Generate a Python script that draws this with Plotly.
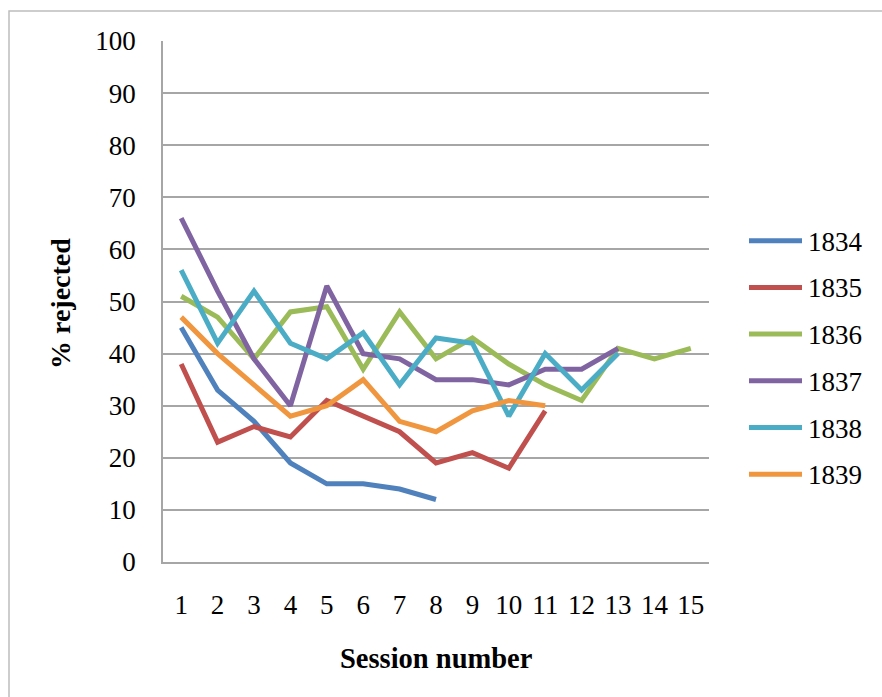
import plotly.graph_objects as go

sessions = list(range(1, 16))
series_names = ["1834", "1835", "1836", "1837", "1838", "1839"]
v1834 = [45, 33, 27, 19, 15, 15, 14, 12]
v1835 = [38, 23, 26, 24, 31, 28, 25, 19, 21, 18, 29]
v1836 = [51, 47, 39, 48, 49, 37, 48, 39, 43, 38, 34, 31, 41, 39, 41]
v1837 = [66, 52, 39, 30, 53, 40, 39, 35, 35, 34, 37, 37, 41]
v1838 = [56, 42, 52, 42, 39, 44, 34, 43, 42, 28, 40, 33, 40]
v1839 = [47, 40, 34, 28, 30, 35, 27, 25, 29, 31, 30]
series_values = [v1834, v1835, v1836, v1837, v1838, v1839]
colors = ["#4F81BD", "#C0504D", "#9BBB59", "#8064A2", "#4BACC6", "#F0963F"]
y_ticks = list(range(0, 101, 10))

FONT = "Liberation Serif"
GRID = "#A6A6A6"

fig = go.Figure()
for name, vals, col in zip(series_names, series_values, colors):
    fig.add_trace(go.Scatter(
        x=sessions[:len(vals)], y=vals, name=name, mode="lines",
        line=dict(color=col, width=5), showlegend=False,
    ))

# plot area geometry (pixels) for manual legend placement
L, T, W, H = 163, 41, 546, 521
def px_x(x):
    return (x - L) / W
def px_y(y):
    return (T + H - y) / H

shapes = []
annotations = []
for i, (name, col) in enumerate(zip(series_names, colors)):
    yy = 240.7 + 46.7 * i
    shapes.append(dict(type="line", xref="paper", yref="paper",
                       x0=px_x(749), x1=px_x(802), y0=px_y(yy), y1=px_y(yy),
                       line=dict(color=col, width=5)))
    annotations.append(dict(text=name, xref="paper", yref="paper",
                            x=px_x(806), y=px_y(yy + 1), xanchor="left", yanchor="middle",
                            showarrow=False, font=dict(family=FONT, size=27, color="#000")))

# outer chart border
shapes.append(dict(type="rect", xref="paper", yref="paper",
                   x0=px_x(9), x1=px_x(1000), y0=px_y(800), y1=px_y(11),
                   line=dict(color="#BDBDBD", width=1.5), layer="below"))

annotations.append(dict(text="<b>% rejected</b>", xref="paper", yref="paper",
                        x=px_x(60), y=px_y(304), xanchor="center", yanchor="middle",
                        textangle=-90, showarrow=False,
                        font=dict(family=FONT, size=28, color="#000")))
annotations.append(dict(text="<b>Session number</b>", xref="paper", yref="paper",
                        x=px_x(436), y=px_y(658), xanchor="center", yanchor="middle",
                        showarrow=False, font=dict(family=FONT, size=28.5, color="#000")))

fig.update_layout(
    width=882, height=697,
    margin=dict(l=L, r=882 - L - W, t=T, b=697 - T - H),
    paper_bgcolor="white", plot_bgcolor="white",
    font=dict(family=FONT, size=26, color="#000"),
    shapes=shapes, annotations=annotations,
    showlegend=False,
)
fig.update_xaxes(
    range=[0.5, 15.5], tickvals=sessions, ticktext=[str(s) for s in sessions],
    showgrid=False, zeroline=False, showline=True, linecolor=GRID, linewidth=1.5,
    ticks="", ticklabelstandoff=18, tickfont=dict(family=FONT, size=27, color="#000"),
)
fig.update_yaxes(
    range=[0, 100], tickvals=y_ticks, showgrid=True, gridcolor=GRID, gridwidth=1.5,
    zeroline=False, showline=True, linecolor=GRID, linewidth=1.5,
    ticks="", ticklabelstandoff=20, tickfont=dict(family=FONT, size=27, color="#000"),
)

fig.write_html("out.html", config={"displayModeBar": False},
               post_script="document.body.style.margin='0';document.body.style.overflow='hidden';")
